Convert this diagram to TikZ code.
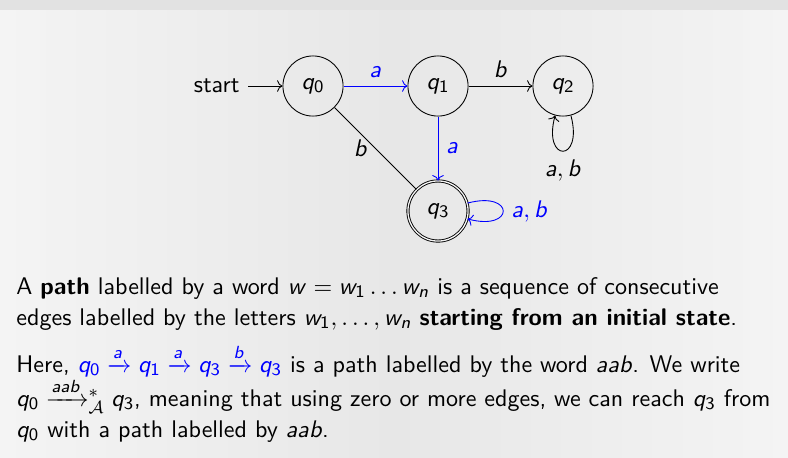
\documentclass[11pt,tikz,border=0pt]{standalone}
\usepackage{amsmath,amssymb}
\usepackage{tikz}
\usetikzlibrary{arrows.meta,calc}
\renewcommand{\familydefault}{\sfdefault}
\DeclareSymbolFont{sfletters}{OT1}{cmss}{m}{sl}
\SetSymbolFont{operators}{normal}{OT1}{cmss}{m}{n}
\makeatletter
\count@=`a
\loop
  \mathcode\count@=\numexpr"7000+"100*\symsfletters+\count@\relax
  \advance\count@ by 1
\ifnum\count@<123 \repeat
\makeatother
\definecolor{bgTop}{HTML}{E2E2E2}
\definecolor{bgSide}{HTML}{F4F4F4}
\definecolor{bgMid}{HTML}{E7E7E7}
\definecolor{cRun}{HTML}{0000FF}

\begin{document}
\begin{tikzpicture}[font=\normalsize,
      qstate/.style={circle,draw,minimum size=2.5em,inner sep=0pt},
      qfinal/.style={qstate,double=bgSide,double distance=0.6pt},
      arr/.style={->},
      run/.style={cRun,text=cRun},
      selfloop/.style={looseness=8,min distance=7.5mm},
      line/.style={anchor=base west,inner sep=0pt}]
    \useasboundingbox (0,0) rectangle (12.608,-7.312);
    \fill[bgTop] (0,0) rectangle (12.608,-0.16);
    \shade[left color=bgSide,right color=bgSide,middle color=bgMid] (0,-0.16) rectangle (12.608,-7.312);
    \node[qstate] (q0) at (5.008,-1.376) {$q_0$};
    \node[qstate] (q1) at (7.008,-1.376) {$q_1$};
    \node[qstate] (q2) at (9.008,-1.376) {$q_2$};
    \node[qfinal] (q3) at (7.008,-3.376) {$q_3$};
    \node[anchor=east] (start) at (3.968,-1.376) {start};
    \draw[arr] (start) -- (q0);
    \draw[arr,run] (q0) -- node[above] {$a$} (q1);
    \draw[arr] (q1) -- node[above] {$b$} (q2);
    \draw[arr,run] (q1) -- node[right] {$a$} (q3);
    \draw (q0) -- node[left] {$b$} (q3);
    \draw[arr] (q2) to[out=-75,in=-105,selfloop] node[below] {$a, b$} (q2);
    \draw[arr,run] (q3) to[out=15,in=-15,selfloop] node[right] {$a, b$} (q3);
    \node[line] (def1) at (0.256,-4.704)
      {A \textbf{path} labelled by a word $w = w_1\ldots w_n$ is a sequence of consecutive};
    \node[line] (def2) at (0.256,-5.2)
      {edges labelled by the letters $w_1,\ldots,w_n$ \textbf{starting from an initial state}.};
    \node[line] (ex1) at (0.256,-5.952)
      {Here, {\color{cRun}$q_0 \xrightarrow{a} q_1 \xrightarrow{a} q_3 \xrightarrow{b} q_3$} is a path labelled by the word $aab$. We write};
    \node[line] (ex2) at (0.256,-6.496)
      {$q_0 \xrightarrow{aab}\mathrel{{}^*_{\mathcal{A}}} q_3$, meaning that using zero or more edges, we can reach $q_3$ from};
    \node[line] (ex3) at (0.256,-6.992)
      {$q_0$ with a path labelled by $aab$.};
  \end{tikzpicture}
\end{document}
